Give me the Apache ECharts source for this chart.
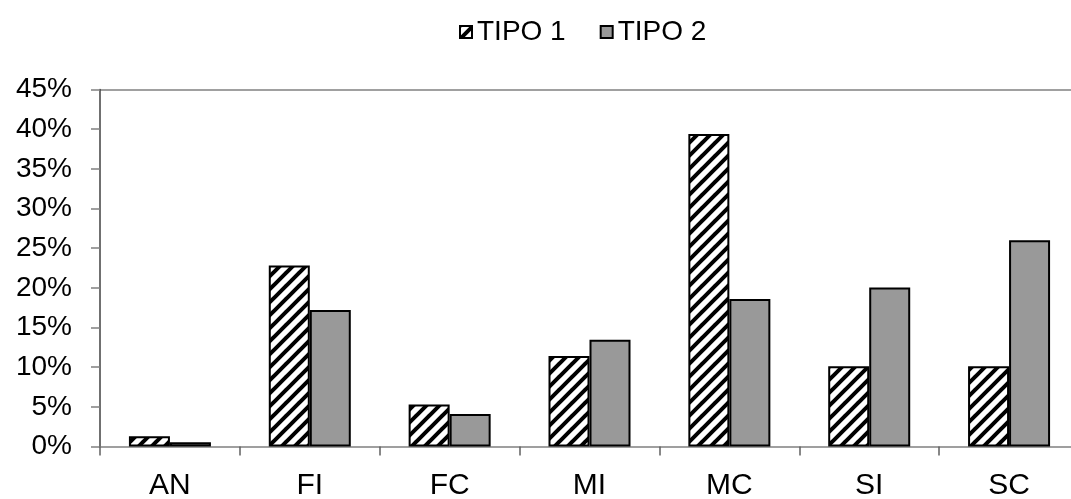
<!DOCTYPE html>
<html>
<head>
<meta charset="utf-8">
<script src="https://cdn.jsdelivr.net/npm/echarts@6/dist/echarts.min.js"></script>
<style>
  html, body { margin: 0; padding: 0; background: #ffffff; }
  #chart { width: 1071px; height: 499px; }
</style>
</head>
<body>
<div id="chart"></div>
<script>
// Categories and percentage values per type
const categories = ['AN', 'FI', 'FC', 'MI', 'MC', 'SI', 'SC'];
const tipo1 = [1.3, 22.8, 5.3, 11.4, 39.4, 10.1, 10.1];
const tipo2 = [0.55, 17.2, 4.1, 13.45, 18.6, 20.05, 26.0];
const seriesNames = ['TIPO 1', 'TIPO 2'];

// Diagonal hatch tile for the first series
function makeHatch(size, width) {
  const c = document.createElement('canvas');
  c.width = size; c.height = size;
  const ctx = c.getContext('2d');
  ctx.fillStyle = '#ffffff';
  ctx.fillRect(0, 0, size, size);
  ctx.strokeStyle = '#000000';
  ctx.lineWidth = width;
  ctx.lineCap = 'square';
  for (let k = -1; k <= 1; k++) {
    ctx.beginPath();
    ctx.moveTo(k * size, size);
    ctx.lineTo(k * size + size, 0);
    ctx.stroke();
  }
  return c;
}
const hatch = makeHatch(13, 4);

// Only the top (45%) gridline is visible
const splitColors = [];
for (let i = 0; i < 9; i++) splitColors.push('rgba(0,0,0,0)');
splitColors.push('#a0a0a0');

const font = '"Liberation Sans", Arial, sans-serif';

const chart = echarts.init(document.getElementById('chart'), null, { renderer: 'canvas' });
chart.setOption({
  animation: false,
  backgroundColor: '#ffffff',
  legend: {
    data: seriesNames,
    top: 13,
    left: 454,
    itemWidth: 12,
    itemHeight: 12,
    itemGap: 34,
    icon: 'rect',
    textStyle: { fontFamily: font, fontSize: 28, color: '#000000' }
  },
  grid: {
    left: 100, top: 89.5, width: 979, height: 357,
    containLabel: false,
    outerBoundsMode: 'none'
  },
  xAxis: {
    type: 'category',
    data: categories,
    axisLine: { lineStyle: { color: '#808080', width: 1.5 } },
    axisTick: { show: true, length: 9, lineStyle: { color: '#606060', width: 1.5 } },
    axisLabel: { fontFamily: font, fontSize: 30, color: '#000000', margin: 24 },
    splitLine: { show: false }
  },
  yAxis: {
    type: 'value',
    min: 0,
    max: 45,
    interval: 5,
    axisLine: { show: true, lineStyle: { color: '#404040', width: 1.5 } },
    axisTick: { show: true, length: 9, lineStyle: { color: '#808080', width: 1.5 } },
    axisLabel: { fontFamily: font, fontSize: 28, color: '#000000', margin: 28, formatter: '{value}%' },
    splitLine: { show: true, lineStyle: { color: splitColors, width: 2 } }
  },
  series: [
    {
      name: seriesNames[0],
      type: 'bar',
      data: tipo1,
      barWidth: 41,
      barGap: '0%',
      itemStyle: { color: { image: hatch, repeat: 'repeat' }, borderColor: '#000000', borderWidth: 2 }
    },
    {
      name: seriesNames[1],
      type: 'bar',
      data: tipo2,
      barWidth: 41,
      barGap: '0%',
      itemStyle: { color: '#999999', borderColor: '#000000', borderWidth: 2 }
    }
  ]
});
</script>
</body>
</html>
